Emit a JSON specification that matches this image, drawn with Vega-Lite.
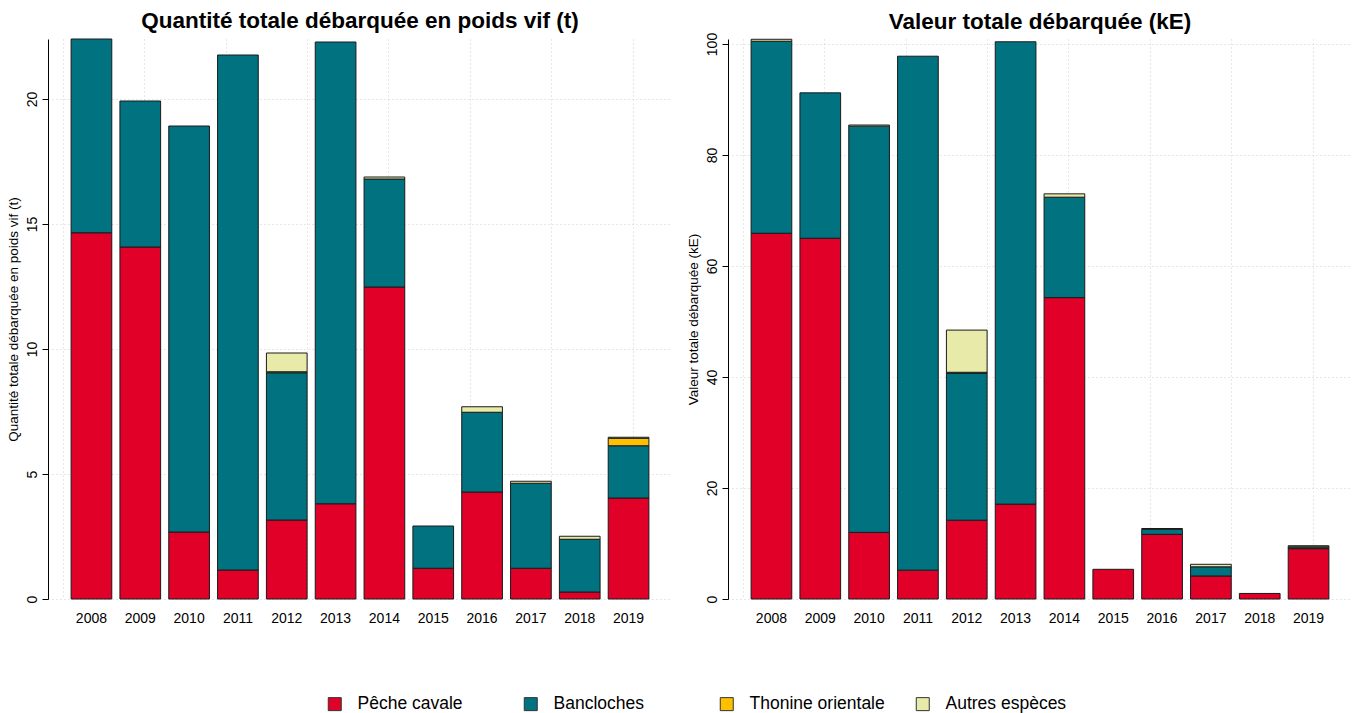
{
  "$schema": "https://vega.github.io/schema/vega-lite/v6.json",
  "padding": {"left": 6, "top": 10, "right": 4, "bottom": 0},
  "background": "white",
  "data": {"values": [
    {"annee": "2008", "espece": "Pêche cavale", "rang": 1, "qte": 14.65, "val": 65.9},
    {"annee": "2008", "espece": "Bancloches", "rang": 2, "qte": 7.75, "val": 34.6},
    {"annee": "2008", "espece": "Thonine orientale", "rang": 3, "qte": 0, "val": 0},
    {"annee": "2008", "espece": "Autres espèces", "rang": 4, "qte": 0, "val": 0.35},
    {"annee": "2009", "espece": "Pêche cavale", "rang": 1, "qte": 14.08, "val": 65.0},
    {"annee": "2009", "espece": "Bancloches", "rang": 2, "qte": 5.84, "val": 26.2},
    {"annee": "2009", "espece": "Thonine orientale", "rang": 3, "qte": 0, "val": 0},
    {"annee": "2009", "espece": "Autres espèces", "rang": 4, "qte": 0, "val": 0},
    {"annee": "2010", "espece": "Pêche cavale", "rang": 1, "qte": 2.68, "val": 12.0},
    {"annee": "2010", "espece": "Bancloches", "rang": 2, "qte": 16.24, "val": 73.2},
    {"annee": "2010", "espece": "Thonine orientale", "rang": 3, "qte": 0, "val": 0},
    {"annee": "2010", "espece": "Autres espèces", "rang": 4, "qte": 0, "val": 0.2},
    {"annee": "2011", "espece": "Pêche cavale", "rang": 1, "qte": 1.16, "val": 5.2},
    {"annee": "2011", "espece": "Bancloches", "rang": 2, "qte": 20.6, "val": 92.6},
    {"annee": "2011", "espece": "Thonine orientale", "rang": 3, "qte": 0, "val": 0},
    {"annee": "2011", "espece": "Autres espèces", "rang": 4, "qte": 0, "val": 0},
    {"annee": "2012", "espece": "Pêche cavale", "rang": 1, "qte": 3.16, "val": 14.2},
    {"annee": "2012", "espece": "Bancloches", "rang": 2, "qte": 5.89, "val": 26.5},
    {"annee": "2012", "espece": "Thonine orientale", "rang": 3, "qte": 0.04, "val": 0.15},
    {"annee": "2012", "espece": "Autres espèces", "rang": 4, "qte": 0.75, "val": 7.6},
    {"annee": "2013", "espece": "Pêche cavale", "rang": 1, "qte": 3.81, "val": 17.1},
    {"annee": "2013", "espece": "Bancloches", "rang": 2, "qte": 18.47, "val": 83.3},
    {"annee": "2013", "espece": "Thonine orientale", "rang": 3, "qte": 0, "val": 0},
    {"annee": "2013", "espece": "Autres espèces", "rang": 4, "qte": 0, "val": 0},
    {"annee": "2014", "espece": "Pêche cavale", "rang": 1, "qte": 12.48, "val": 54.3},
    {"annee": "2014", "espece": "Bancloches", "rang": 2, "qte": 4.32, "val": 18.1},
    {"annee": "2014", "espece": "Thonine orientale", "rang": 3, "qte": 0, "val": 0},
    {"annee": "2014", "espece": "Autres espèces", "rang": 4, "qte": 0.08, "val": 0.6},
    {"annee": "2015", "espece": "Pêche cavale", "rang": 1, "qte": 1.23, "val": 5.35},
    {"annee": "2015", "espece": "Bancloches", "rang": 2, "qte": 1.69, "val": 0},
    {"annee": "2015", "espece": "Thonine orientale", "rang": 3, "qte": 0, "val": 0},
    {"annee": "2015", "espece": "Autres espèces", "rang": 4, "qte": 0, "val": 0},
    {"annee": "2016", "espece": "Pêche cavale", "rang": 1, "qte": 4.28, "val": 11.65},
    {"annee": "2016", "espece": "Bancloches", "rang": 2, "qte": 3.19, "val": 0.9},
    {"annee": "2016", "espece": "Thonine orientale", "rang": 3, "qte": 0, "val": 0},
    {"annee": "2016", "espece": "Autres espèces", "rang": 4, "qte": 0.22, "val": 0.15},
    {"annee": "2017", "espece": "Pêche cavale", "rang": 1, "qte": 1.23, "val": 4.15},
    {"annee": "2017", "espece": "Bancloches", "rang": 2, "qte": 3.4, "val": 1.65},
    {"annee": "2017", "espece": "Thonine orientale", "rang": 3, "qte": 0, "val": 0},
    {"annee": "2017", "espece": "Autres espèces", "rang": 4, "qte": 0.08, "val": 0.45},
    {"annee": "2018", "espece": "Pêche cavale", "rang": 1, "qte": 0.28, "val": 1.0},
    {"annee": "2018", "espece": "Bancloches", "rang": 2, "qte": 2.11, "val": 0},
    {"annee": "2018", "espece": "Thonine orientale", "rang": 3, "qte": 0, "val": 0},
    {"annee": "2018", "espece": "Autres espèces", "rang": 4, "qte": 0.12, "val": 0},
    {"annee": "2019", "espece": "Pêche cavale", "rang": 1, "qte": 4.04, "val": 9.07},
    {"annee": "2019", "espece": "Bancloches", "rang": 2, "qte": 2.09, "val": 0.33},
    {"annee": "2019", "espece": "Thonine orientale", "rang": 3, "qte": 0.3, "val": 0.2},
    {"annee": "2019", "espece": "Autres espèces", "rang": 4, "qte": 0.04, "val": 0}
  ]},
  "hconcat": [
    {
      "title": {"text": "Quantité totale débarquée en poids vif (t)", "offset": 6},
      "width": 624,
      "height": 560,
      "layer": [
        {
          "mark": {"type": "rule", "opacity": 0},
          "encoding": {
            "x": {"datum": 0, "type": "quantitative",
                  "scale": {"domain": [-0.368, 14.968], "nice": false, "zero": false},
                  "axis": {"orient": "top", "values": [0, 2, 4, 6, 8, 10, 12, 14], "labels": false, "ticks": false,
                           "domain": false, "grid": true, "title": null, "gridColor": "#cfcfcf", "gridDash": [1, 3]}}
          }
        },
        {
          "transform": [{"filter": "datum.qte > 0"}],
          "mark": {"type": "bar", "stroke": "#1a1a1a", "strokeWidth": 1},
          "encoding": {
            "x": {"field": "annee", "type": "ordinal", "title": null,
                  "scale": {"paddingInner": 0.1667, "paddingOuter": 0.473}},
            "y": {"field": "qte", "type": "quantitative", "stack": "zero",
                  "title": "Quantité totale débarquée en poids vif (t)",
                  "scale": {"domain": [0, 22.4], "nice": false, "zero": true},
                  "axis": {"values": [0, 5, 10, 15, 20]}},
            "color": {"field": "espece", "type": "nominal",
                      "scale": {"domain": ["Pêche cavale", "Bancloches", "Thonine orientale", "Autres espèces"],
                                "range": ["#E00028", "#007280", "#FFC000", "#E8EAAA"]}},
            "order": {"field": "rang", "type": "quantitative"}
          }
        }
      ],
      "resolve": {"scale": {"x": "independent"}}
    },
    {
      "title": {"text": "Valeur totale débarquée (kE)", "offset": -1},
      "width": 624,
      "height": 560,
      "layer": [
        {
          "mark": {"type": "rule", "opacity": 0},
          "encoding": {
            "x": {"datum": 0, "type": "quantitative",
                  "scale": {"domain": [-0.368, 14.968], "nice": false, "zero": false},
                  "axis": {"orient": "top", "values": [0, 2, 4, 6, 8, 10, 12, 14], "labels": false, "ticks": false,
                           "domain": false, "grid": true, "title": null, "gridColor": "#cfcfcf", "gridDash": [1, 3]}}
          }
        },
        {
          "transform": [{"filter": "datum.val > 0"}],
          "mark": {"type": "bar", "stroke": "#1a1a1a", "strokeWidth": 1},
          "encoding": {
            "x": {"field": "annee", "type": "ordinal", "title": null,
                  "scale": {"paddingInner": 0.1667, "paddingOuter": 0.473}},
            "y": {"field": "val", "type": "quantitative", "stack": "zero",
                  "title": "Valeur totale débarquée (kE)",
                  "scale": {"domain": [0, 100.9], "nice": false, "zero": true},
                  "axis": {"values": [0, 20, 40, 60, 80, 100]}},
            "color": {"field": "espece", "type": "nominal",
                      "scale": {"domain": ["Pêche cavale", "Bancloches", "Thonine orientale", "Autres espèces"],
                                "range": ["#E00028", "#007280", "#FFC000", "#E8EAAA"]}},
            "order": {"field": "rang", "type": "quantitative"}
          }
        }
      ],
      "resolve": {"scale": {"x": "independent"}}
    }
  ],
  "spacing": 14,
  "resolve": {"scale": {"y": "independent", "x": "independent"}},
  "config": {
    "font": "Liberation Sans",
    "view": {"stroke": null},
    "title": {"fontSize": 22.5, "fontWeight": "bold", "color": "#000", "font": "Liberation Sans", "anchor": "middle"},
    "axisX": {"labelAngle": 0, "labelFontSize": 14, "labelColor": "#000", "ticks": false, "domain": false, "labelPadding": 12, "grid": false},
    "axisY": {"labelAngle": -90, "labelFontSize": 14, "labelColor": "#000", "tickSize": 6, "tickColor": "#000", "domainColor": "#000",
              "labelPadding": 3, "titleFontSize": 13.5, "titleFontWeight": "normal", "titleColor": "#000", "titlePadding": 5,
              "grid": true, "gridColor": "#cfcfcf", "gridDash": [1, 3], "gridWidth": 1},
    "legend": {"orient": "none", "legendX": 278, "legendY": 656, "direction": "horizontal", "columns": 4, "gridAlign": "all",
               "columnPadding": 29, "title": null, "symbolType": "square", "symbolSize": 169, "symbolStrokeColor": "#333",
               "symbolStrokeWidth": 1, "labelFontSize": 17.5, "labelColor": "#000", "labelOffset": 14, "padding": 0, "symbolOpacity": 1}
  }
}
